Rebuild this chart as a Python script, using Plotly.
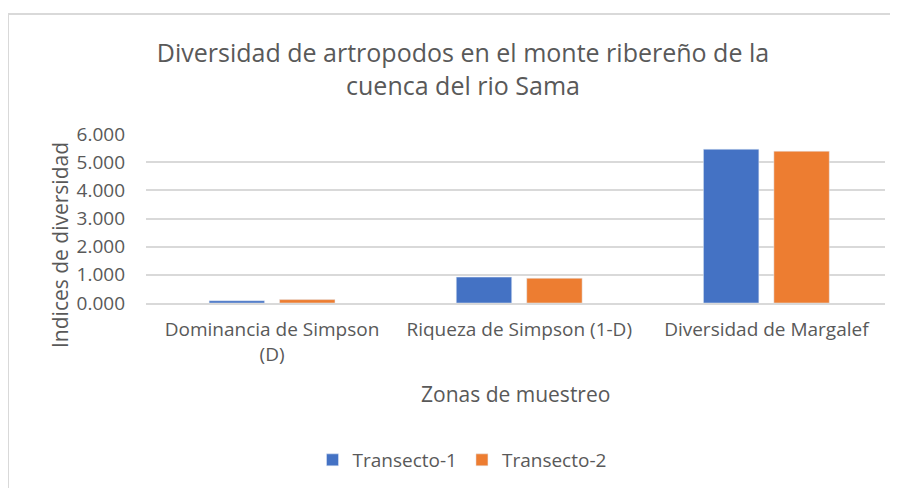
import plotly.graph_objects as go

categories = ["Dominancia de Simpson<br>(D)", "Riqueza de Simpson (1-D)", "Diversidad de Margalef"]
transecto_1 = [0.08, 0.92, 5.46]
transecto_2 = [0.12, 0.88, 5.39]
series_names = ["Transecto-1", "Transecto-2"]
tick_vals = [0, 1, 2, 3, 4, 5, 6]
tick_text = ["0.000", "1.000", "2.000", "3.000", "4.000", "5.000", "6.000"]

W, H = 898, 488
OFF = 8  # page offset of the figure in the window
L, R, T, B = 146 - OFF, 885 - OFF, 134 - OFF, 303 - OFF  # plot area in figure pixels

FONT = "Open Sans"
GREY = "#595959"

fig = go.Figure()
fig.add_trace(go.Bar(x=categories, y=transecto_1, name=series_names[0], marker_color="#4472C4"))
fig.add_trace(go.Bar(x=categories, y=transecto_2, name=series_names[1], marker_color="#ED7D31"))

def px_x(p):  # window pixel -> paper
    return (p - OFF - L) / (R - L)

def px_y(p):
    return (B - (p - OFF)) / (B - T)

fig.update_layout(
    width=W, height=H,
    margin=dict(l=L, r=W - R, t=T, b=H - B, autoexpand=False),
    paper_bgcolor="white", plot_bgcolor="white",
    font=dict(family=FONT, color=GREY, size=19),
    barmode="group", bargap=0.43, bargroupgap=0.213,
    title=dict(text="Diversidad de artropodos en el monte ribereño de la<br>cuenca del rio Sama",
               x=(463 - OFF) / W, xanchor="center", y=1 - (62 - OFF) / H, yanchor="middle",
               font=dict(size=25, color=GREY, family=FONT)),
    showlegend=True,
    legend=dict(orientation="h", x=(462 - OFF) / W, xref="container", xanchor="center",
                y=1 - (460 - OFF) / H, yref="container", yanchor="middle",
                font=dict(size=19, color=GREY), itemwidth=30, traceorder="normal"),
    xaxis=dict(range=[-0.51, 2.48], showgrid=False, showline=True, linecolor="#d9d9d9", linewidth=2,
               ticks="", ticklabelstandoff=8, tickfont=dict(size=19, color=GREY), fixedrange=True),
    yaxis=dict(range=[0, 6], tickvals=tick_vals, ticktext=tick_text,
               showgrid=True, gridcolor="#d9d9d9", gridwidth=1.5, zeroline=False,
               showline=False, ticks="", ticklabelstandoff=20,
               tickfont=dict(size=19, color=GREY)),
    annotations=[
        dict(text="Indices de diversidad", xref="paper", yref="paper",
             x=px_x(60), y=px_y(245), xanchor="center", yanchor="middle",
             textangle=-90, showarrow=False, font=dict(size=21, color=GREY)),
        dict(text="Zonas de muestreo", xref="paper", yref="paper",
             x=px_x(515), y=px_y(394), xanchor="center", yanchor="middle",
             showarrow=False, font=dict(size=21, color=GREY)),
    ],
    shapes=[
        dict(type="line", xref="paper", yref="paper", x0=px_x(8), x1=px_x(W + 20),
             y0=px_y(14), y1=px_y(14), line=dict(color="#d9d9d9", width=2)),
        dict(type="line", xref="paper", yref="paper", x0=px_x(8), x1=px_x(8),
             y0=px_y(14), y1=px_y(H + 20), line=dict(color="#d9d9d9", width=2)),
    ],
)

fig.write_html("out.html")
